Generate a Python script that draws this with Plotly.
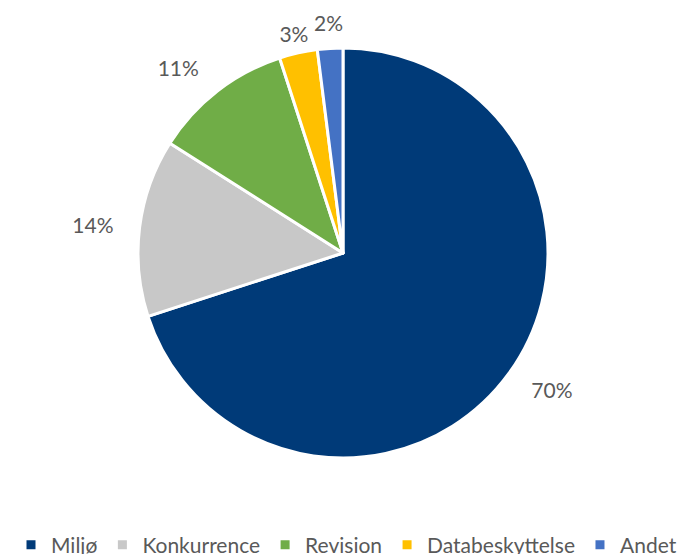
import plotly.graph_objects as go

categories = ["Miljø", "Konkurrence", "Revision", "Databeskyttelse", "Andet"]
values = [70, 14, 11, 3, 2]
colors = ["#003A78", "#C8C8C8", "#70AD47", "#FFC000", "#4472C4"]

# the page body adds an 8 px offset, so figure coordinates are shifted by -8
W, H = 686, 554
cx, cy, r = 335, 245, 205
r_lab = 225      # invisible pie carrying outside labels
r_ring = 245     # invisible ring carrying labels of the thin slices

clear = ["rgba(0,0,0,0)"] * len(values)
lab_font = dict(family="Lato", size=21, color="#595959")


def dom(rad):
    return dict(x=[(cx - rad) / W, (cx + rad) / W],
                y=[max(0.0, (H - cy - rad) / H), min(1.0, (H - cy + rad) / H)])


outside_labels = go.Pie(
    labels=categories, values=values, sort=False, direction="clockwise", rotation=0,
    marker=dict(colors=clear, line=dict(width=0)),
    texttemplate="%{value}%",
    textposition=["outside", "outside", "outside", "none", "none"],
    textfont=lab_font,
    domain=dom(r_lab), showlegend=False, hoverinfo="skip",
)

ring_labels = go.Pie(
    labels=categories, values=values, sort=False, direction="clockwise", rotation=0,
    hole=r / r_ring,
    marker=dict(colors=clear, line=dict(width=0)),
    texttemplate="%{value}%",
    textposition=["none", "none", "none", "inside", "inside"],
    insidetextorientation="horizontal",
    textfont=lab_font,
    domain=dom(r_ring), showlegend=False, hoverinfo="skip",
)

main = go.Pie(
    labels=categories, values=values, sort=False, direction="clockwise", rotation=0,
    marker=dict(colors=colors, line=dict(color="white", width=3)),
    textinfo="none",
    domain=dom(r),
    hoverinfo="label+percent",
)

fig = go.Figure([outside_labels, ring_labels, main])

fig.update_layout(
    width=W, height=H,
    margin=dict(l=0, r=0, t=0, b=0, autoexpand=False),
    paper_bgcolor="white",
    showlegend=True,
    uniformtext=dict(minsize=21, mode="show"),
    legend=dict(
        orientation="h",
        x=338.5 / W, xanchor="center",
        y=(H - 537) / H, yanchor="middle",
        font=dict(family="Lato", size=21, color="#595959"),
        itemwidth=30,
        traceorder="normal",
    ),
)

fig.write_html("out.html")
